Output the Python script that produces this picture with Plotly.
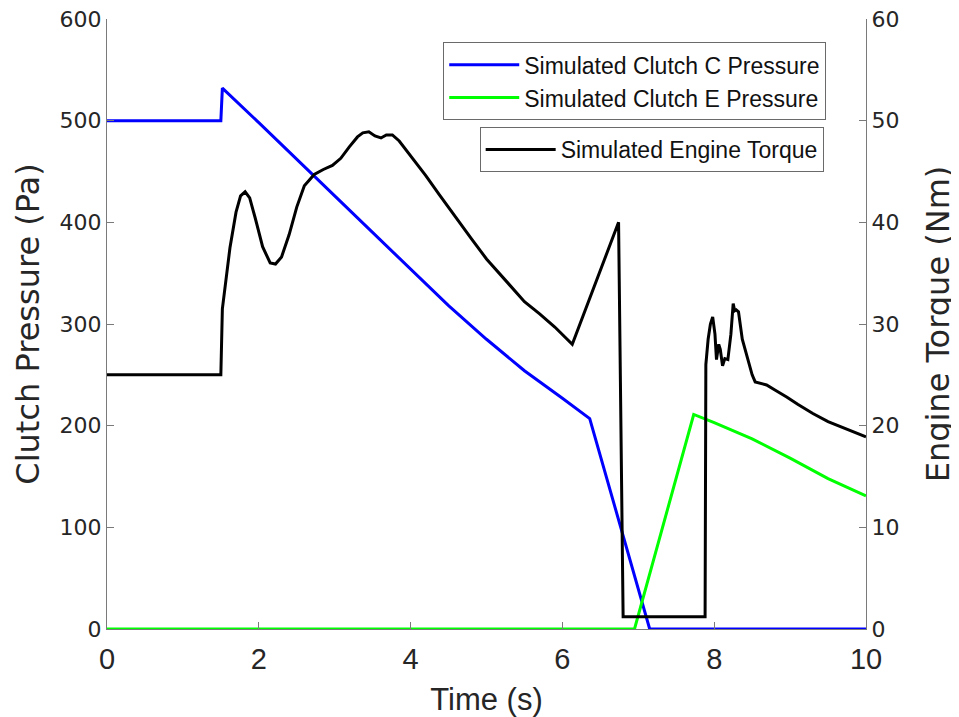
import plotly.graph_objects as go

# Clutch C pressure (Pa)
c_time = [0, 1.50, 1.52, 2.0, 3.0, 4.0, 4.5, 5.0, 5.5, 6.0, 6.36, 7.15, 10.0]
c_pres = [500, 500, 532, 498, 426, 354, 318, 285, 254, 227, 207, 0, 0]

# Clutch E pressure (Pa)
e_time = [0, 6.95, 7.73, 8.0, 8.5, 9.0, 9.5, 10.0]
e_pres = [0, 0, 211, 203, 187, 168, 148, 131]

# Engine torque (Nm)
t_time = [0, 1.50, 1.52, 1.55, 1.62, 1.70, 1.76, 1.82, 1.88, 1.95, 2.05, 2.15, 2.22, 2.30,
          2.40, 2.50, 2.60, 2.73, 2.85, 2.97, 3.08, 3.19, 3.30, 3.37, 3.45, 3.53, 3.61, 3.68,
          3.76, 3.85, 4.02, 4.20, 4.38, 4.60, 4.80, 5.00, 5.25, 5.50, 5.70, 5.90, 6.13,
          6.74, 6.80, 7.88, 7.89, 7.92, 7.95, 7.98, 8.01, 8.03, 8.06, 8.08, 8.11, 8.14,
          8.18, 8.22, 8.25, 8.27, 8.29, 8.32, 8.37, 8.43, 8.50, 8.54, 8.60, 8.69, 8.80,
          8.96, 9.10, 9.30, 9.50, 9.66, 9.85, 10.0]
t_torq = [25, 25, 31.5, 33.5, 37.5, 41.0, 42.6, 43.0, 42.4, 40.5, 37.6, 36.0, 35.9, 36.6,
          38.8, 41.5, 43.6, 44.7, 45.2, 45.6, 46.3, 47.4, 48.4, 48.8, 48.9, 48.5, 48.3, 48.6,
          48.6, 48.0, 46.4, 44.6, 42.7, 40.4, 38.4, 36.4, 34.3, 32.2, 31.0, 29.7, 28.0,
          40.0, 1.2, 1.2, 26.0, 28.5, 30.0, 30.7, 29.0, 26.5, 28.0, 27.5, 25.9, 26.6,
          26.5, 29.0, 32.0, 31.3, 31.4, 31.2, 28.5, 26.8, 25.0, 24.3, 24.2, 24.0, 23.5,
          22.8, 22.1, 21.2, 20.4, 19.9, 19.3, 18.9]

x_ticks = [0, 2, 4, 6, 8, 10]
y_ticks = [0, 100, 200, 300, 400, 500, 600]
y2_ticks = [0, 10, 20, 30, 40, 50, 60]

fig = go.Figure()
fig.add_trace(go.Scatter(x=c_time, y=c_pres, mode="lines", name="Simulated Clutch C Pressure",
                         line=dict(color="#0000FF", width=3), legend="legend"))
fig.add_trace(go.Scatter(x=e_time, y=e_pres, mode="lines", name="Simulated Clutch E Pressure",
                         line=dict(color="#00FF00", width=3), legend="legend"))
fig.add_trace(go.Scatter(x=t_time, y=t_torq, mode="lines", name="Simulated Engine Torque",
                         line=dict(color="#000000", width=3), yaxis="y2", legend="legend2"))

axis_col = "#7a7a7a"
txt_col = "#262626"
ytick_font = dict(family="DejaVu Sans", size=22, color=txt_col)
xtick_font = dict(family="Liberation Sans, Arial, sans-serif", size=29, color=txt_col)
ytitle_font = dict(family="DejaVu Sans", size=32, color=txt_col)
xtitle_font = dict(family="Liberation Sans, Arial, sans-serif", size=31, color=txt_col)
leg_font = dict(family="Liberation Sans, Arial, sans-serif", size=23, color="#111111")

fig.update_layout(
    width=951, height=709,
    margin=dict(l=99, r=93, t=11, b=88, autoexpand=False),
    paper_bgcolor="white", plot_bgcolor="white",
    showlegend=True,
    xaxis=dict(range=[0, 10], tickvals=x_ticks, ticks="inside", ticklen=7,
               tickcolor=axis_col, showline=True, linecolor=axis_col, linewidth=1,
               showgrid=False, zeroline=False, tickfont=xtick_font, ticklabelstandoff=4,
               title=dict(text="Time (s)", font=xtitle_font, standoff=14)),
    yaxis=dict(range=[0, 600], tickvals=y_ticks, ticks="inside",
               ticklen=7, tickcolor=axis_col, showline=True, linecolor=axis_col, linewidth=1,
               showgrid=False, zeroline=False, tickfont=ytick_font, ticklabeloverflow="allow",
               title=dict(text="Clutch Pressure (Pa)", font=ytitle_font, standoff=10)),
    yaxis2=dict(range=[0, 60], tickvals=y2_ticks, ticks="inside",
                ticklen=7, tickcolor=axis_col, showline=True, linecolor=axis_col, linewidth=1,
                showgrid=False, zeroline=False, tickfont=ytick_font, overlaying="y", side="right",
                ticklabeloverflow="allow",
                title=dict(text="Engine Torque (Nm)", font=ytitle_font, standoff=28)),
    legend=dict(x=0.443, y=0.962, xanchor="left", yanchor="top", bgcolor="white",
                bordercolor="#6a6a6a", borderwidth=1, font=leg_font,
                tracegroupgap=0, itemwidth=70),
    legend2=dict(x=0.491, y=0.823, xanchor="left", yanchor="top", bgcolor="white",
                 bordercolor="#6a6a6a", borderwidth=1, font=leg_font, itemwidth=70),
)

fig.write_html("out.html")
